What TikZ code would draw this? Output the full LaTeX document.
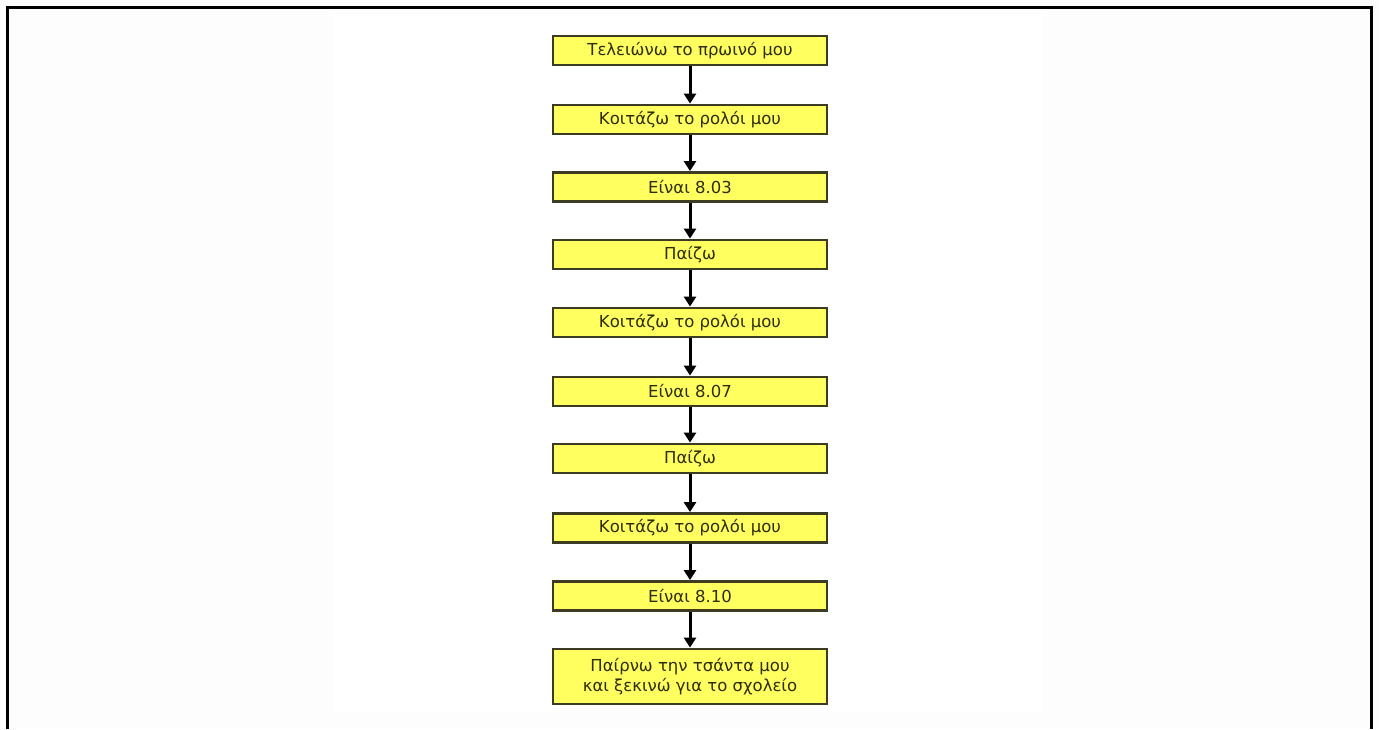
\documentclass[tikz,border=0pt]{standalone}
\usepackage{fontspec}
\setmainfont{DejaVu Sans}
\usetikzlibrary{arrows.meta}
\definecolor{pagebg}{RGB}{253,253,253}
\definecolor{boxfill}{RGB}{255,255,96}
\definecolor{boxline}{RGB}{60,60,35}
\definecolor{boxtext}{RGB}{45,45,10}
\tikzset{
  stepbox/.style={draw=boxline, line width=2.8pt, fill=boxfill,
    minimum width=274pt, minimum height=29pt, inner sep=0pt,
    text=boxtext, font=\fontsize{16.5}{20}\selectfont, align=center},
  flow/.style={draw=black, line width=3pt,
    -{Triangle[width=12pt,length=10pt]}},
  frameline/.style={draw=black, line width=3.5pt}
}
\begin{document}
\begin{tikzpicture}[x=1pt,y=-1pt]
  \useasboundingbox (0,0) rectangle (1379,729);
  \fill[pagebg] (0,0) rectangle (1379,729);
  \fill[white] (333,14) rectangle (1043,712);
  \draw[frameline] (7.5,729) -- (7.5,7.5) -- (1371.5,7.5) -- (1371.5,729);

  \node[stepbox] (s1)  at (690,50.5)  {Τελειώνω το πρωινό μου};
  \node[stepbox] (s2)  at (690,119.5) {Κοιτάζω το ρολόι μου};
  \node[stepbox] (s3)  at (690,187)   {Είναι 8.03};
  \node[stepbox] (s4)  at (690,254.5) {Παίζω};
  \node[stepbox] (s5)  at (690,322.5) {Κοιτάζω το ρολόι μου};
  \node[stepbox] (s6)  at (690,391.5) {Είναι 8.07};
  \node[stepbox] (s7)  at (690,458.5) {Παίζω};
  \node[stepbox] (s8)  at (690,528)   {Κοιτάζω το ρολόι μου};
  \node[stepbox] (s9)  at (690,596)   {Είναι 8.10};
  \node[stepbox, minimum height=55pt] (s10) at (690,676.5)
    {Παίρνω την τσάντα μου\\και ξεκινώ για το σχολείο};

  \foreach \a/\b in {s1/s2,s2/s3,s3/s4,s4/s5,s5/s6,s6/s7,s7/s8,s8/s9,s9/s10}
    \draw[flow] (\a.south) -- (\b.north);
\end{tikzpicture}
\end{document}
